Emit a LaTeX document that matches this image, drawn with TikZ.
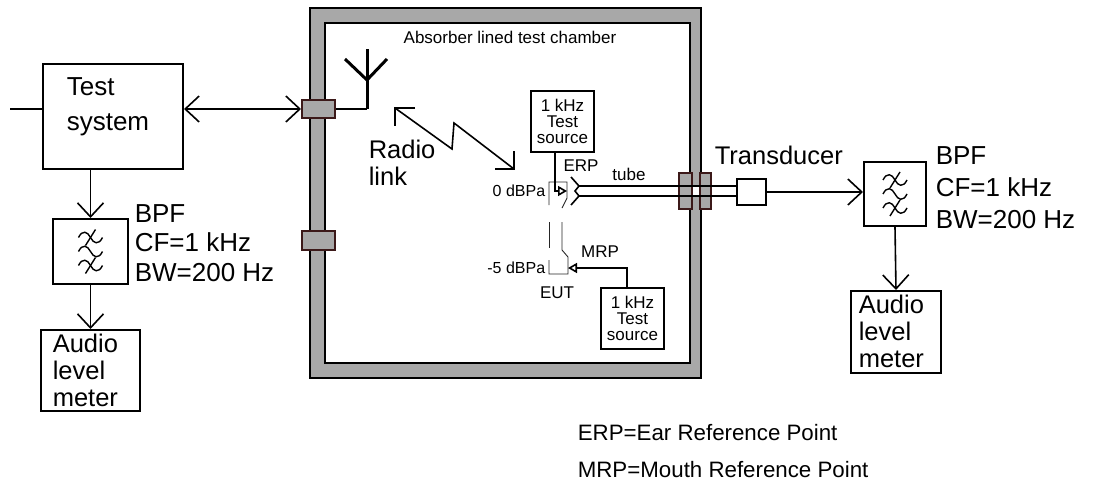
\documentclass[tikz,border=0pt]{standalone}
\usepackage{fontspec}
\setmainfont{Liberation Sans}
\usetikzlibrary{arrows.meta}
\definecolor{wallgray}{RGB}{168,168,168}
\definecolor{connedge}{RGB}{60,25,25}
\begin{document}
\begin{tikzpicture}[x=1pt,y=-1pt,line width=1.6pt,
  >={Straight Barb[length=14pt,width=26pt]},
  box/.style={draw,line width=2pt,inner sep=0pt,anchor=north west},
  conn/.style={draw=connedge,fill=wallgray,line width=2pt,inner sep=0pt},
  big/.style={font=\fontsize{25.5}{30}\selectfont,inner sep=0pt,align=left},
  legend/.style={font=\fontsize{22.3}{26}\selectfont,inner sep=0pt,anchor=west},
  small/.style={font=\fontsize{17}{16}\selectfont,inner sep=0pt,align=center},
  thinline/.style={line width=0.9pt,draw=black!85},
  opentri/.style={-{Triangle[open,length=9pt,width=10pt]}},
  bpfsym/.pic={
    \foreach \yy in {-14,0,14}{
      \draw[line width=1.4pt] (-12,\yy) .. controls (-8,\yy-8) and (-3,\yy-6) .. (0,\yy)
        .. controls (3,\yy+6) and (8,\yy+8) .. (12,\yy);
    }
    \draw[line width=1.4pt] (-5,-6) -- (5,-22);
    \draw[line width=1.4pt] (-5,22) -- (5,6);
  }
]
\useasboundingbox (0,0) rectangle (1104,490);

% chamber
\filldraw[fill=wallgray,draw=black,line width=2pt] (310,8) rectangle (701,378);
\filldraw[fill=white,draw=black,line width=2pt] (325,23) rectangle (690,363);
\node[small,font=\fontsize{17}{20}\selectfont] (title) at (510,37) {Absorber lined test chamber};

% boxes
\node[box,minimum width=140pt,minimum height=105pt] (ts) at (42,63) {};
\node[big,anchor=west,font=\fontsize{26}{35}\selectfont] (tstxt) at (66,107) {Test\\system};
\node[box,minimum width=75pt,minimum height=65pt] (lbpf) at (52,218) {};
\pic at (lbpf.center) {bpfsym};
\node[box,minimum width=99pt,minimum height=81pt] (lmeter) at (40,329) {};
\node[big,anchor=north west,font=\fontsize{25.5}{27}\selectfont] (lmtxt) at (52,333) {Audio\\level\\meter};
\node[big,anchor=west,font=\fontsize{26}{29.5}\selectfont] (lbpftxt) at (134,243) {BPF\\CF=1 kHz\\BW=200 Hz};

\node[box,minimum width=63pt,minimum height=61pt] (src1) at (530,90) {};
\node[small] (src1txt) at (src1.center) {1 kHz\\Test\\source};
\node[box,minimum width=63pt,minimum height=61pt] (src2) at (600,287) {};
\node[small] (src2txt) at (src2.center) {1 kHz\\Test\\source};

% tube
\fill[white] (579,186) rectangle (736,196);
\node[conn,minimum width=13pt,minimum height=36pt] (c3) at (685.5,191) {};
\node[conn,minimum width=11pt,minimum height=36pt] (c4) at (705.5,191) {};
\node[box,minimum width=29pt,minimum height=26pt] (tr) at (736,178) {};
\draw (579,186) -- (tr.west |- 0,186);
\draw (579,196) -- (tr.west |- 0,196);

\node[box,minimum width=62pt,minimum height=64pt] (rbpf) at (863,161) {};
\pic at (rbpf.center) {bpfsym};
\node[box,minimum width=90pt,minimum height=82pt] (rmeter) at (850,290) {};
\node[big,anchor=north west,font=\fontsize{25.5}{27}\selectfont] (rmtxt) at (858,294) {Audio\\level\\meter};
\node[big,anchor=west,font=\fontsize{26}{32}\selectfont] (rbpftxt) at (935,188) {BPF\\CF=1 kHz\\BW=200 Hz};
\node[big,anchor=west] (trtxt) at (714,155) {Transducer};

% wall connectors
\node[conn,minimum width=33pt,minimum height=18pt] (c1) at (318.5,109) {};
\node[conn,minimum width=33pt,minimum height=19pt] (c2) at (318.5,240.5) {};

% connectors
\coordinate (inL) at (10,109);
\draw (inL) -- (inL -| ts.west);
\draw[<->] (c1.west -| ts.east) -- (c1.west);
\draw[->] (lbpf.north |- ts.south) -- (lbpf.north);
\draw[->] (lbpf.south) -- (lmeter.north);
\draw[->] (tr.east) -- (tr.east -| rbpf.west);
\draw[->] (rbpf.south) -- (rmeter.north);

% antenna
\coordinate (ant) at (367,109);
\draw (c1.east) -- (ant);
\draw[line width=3pt] (ant) -- (367,49);
\draw[line width=3pt] (345,59) -- (367,80) -- (387,59);

% radio link
\draw (395,108) -- (452,149) -- (454,123) -- (514,169);
\draw (415,108) -- (395,108) -- (395,126);
\draw (495,169) -- (514,169) -- (514,151);
\node[big,anchor=west,font=\fontsize{25.5}{27}\selectfont] (rltxt) at (368,163) {Radio\\link};

% EUT handset
\draw[thinline] (549,205) -- (549,182) -- (567,182) -- (567,198) -- (562,208);
\draw[thinline] (549,222) -- (549,248);
\draw[thinline] (562,222) -- (562,250) -- (568,257) -- (568,274) -- (549,274) -- (549,260);

% ear cup
\draw (571,177) -- (579,186);
\draw (579,196) -- (571,205);
\draw (579,186) -- (575,191) -- (579,196);

% ERP / MRP feeds
\coordinate (erpbend) at (555,191);
\coordinate (erp) at (567,191);
\draw[opentri] (erpbend |- src1.south) -- (erpbend) -- (erp);
\coordinate (mrpbend) at (627,268);
\coordinate (mrp) at (568,268);
\draw[opentri] (mrpbend |- src2.north) -- (mrpbend) -- (mrp);

% small labels
\node[small] (erptxt) at (581,166) {ERP};
\node[small] (tubetxt) at (629,174) {tube};
\node[small] (mrptxt) at (600,252) {MRP};
\node[small] (euttxt) at (557,293) {EUT};
\node[small,anchor=east,font=\fontsize{16}{18}\selectfont] (db0) at (546,191) {0 dBPa};
\node[small,anchor=east,font=\fontsize{16}{18}\selectfont] (db5) at (546,268) {-5 dBPa};

% legend
\node[legend] (leg1) at (577,433) {ERP=Ear Reference Point};
\node[legend] (leg2) at (577,470) {MRP=Mouth Reference Point};
\end{tikzpicture}
\end{document}
